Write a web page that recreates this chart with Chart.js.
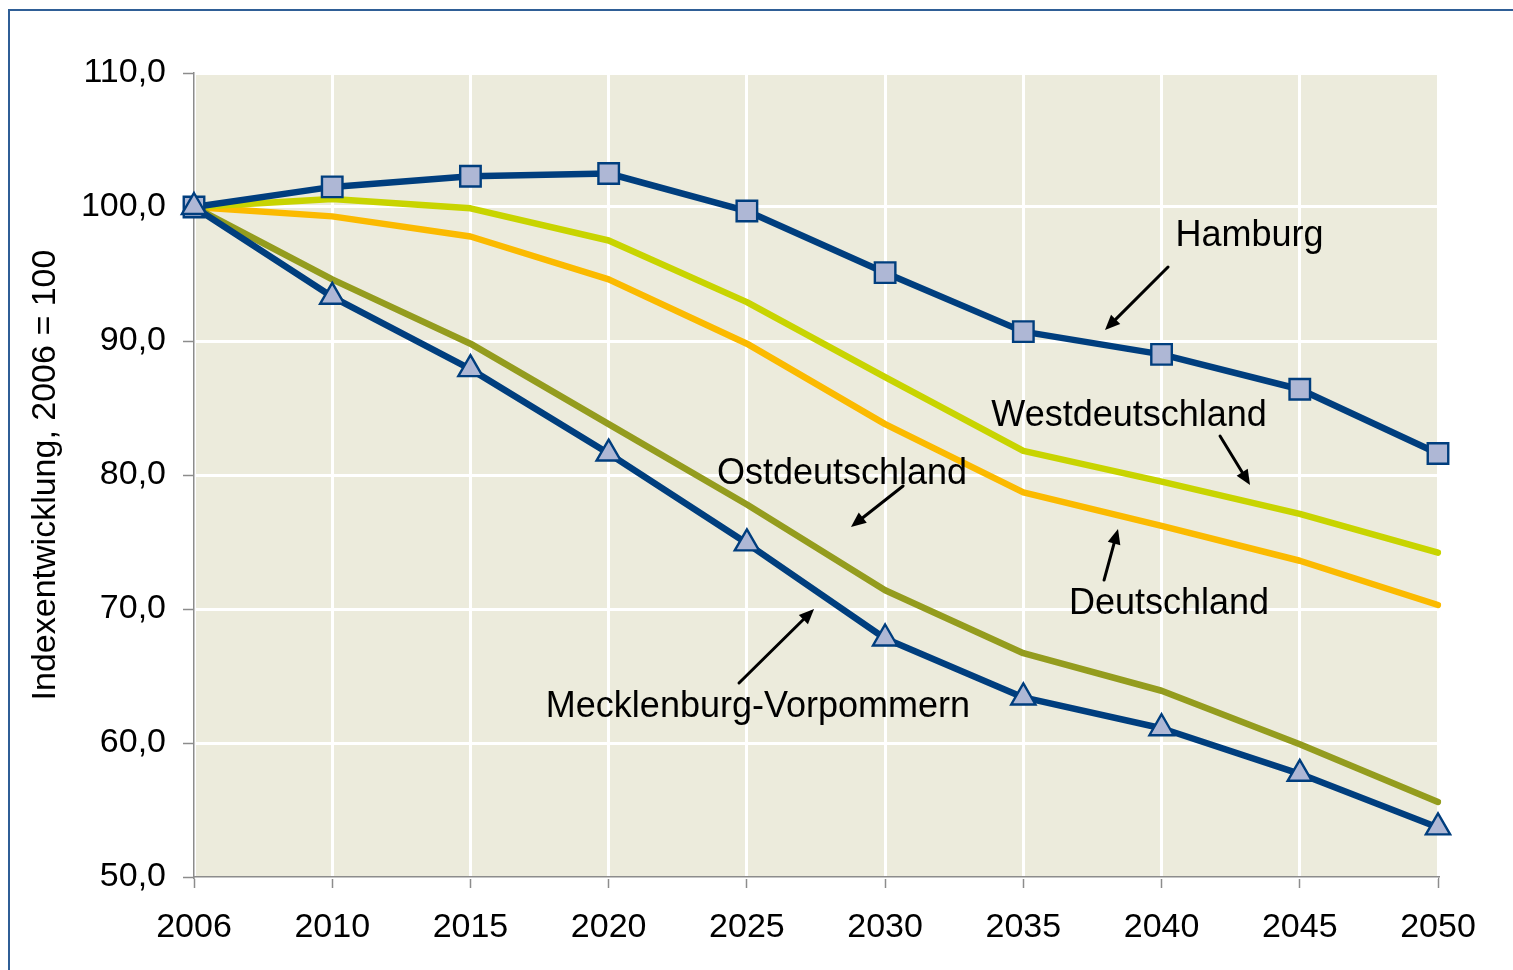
<!DOCTYPE html>
<html>
<head>
<meta charset="utf-8">
<script src="https://cdn.jsdelivr.net/npm/chart.js@4.4.1/dist/chart.umd.min.js"></script>
<style>
  html, body { margin: 0; padding: 0; background: #ffffff; overflow: hidden; }
  #frame { position: absolute; left: 8px; top: 9px; width: 1700px; height: 1200px;
           border-top: 2px solid #2F5E96; border-left: 2px solid #2F5E96; }
  #wrap { position: absolute; left: 0; top: 0; width: 1513px; height: 970px; }
</style>
</head>
<body>
<div id="frame"></div>
<div id="wrap"><canvas id="c" width="1513" height="970"></canvas></div>
<script>
// ---- data ----
const years = ["2006", "2010", "2015", "2020", "2025", "2030", "2035", "2040", "2045", "2050"];
const hamburg = [100.0, 101.5, 102.3, 102.5, 99.7, 95.1, 90.7, 89.0, 86.4, 81.6];
const westdeutschland = [100.0, 100.6, 99.9, 97.5, 92.9, 87.3, 81.8, 79.5, 77.1, 74.2];
const deutschland = [100.0, 99.3, 97.8, 94.6, 89.8, 83.8, 78.7, 76.2, 73.6, 70.3];
const ostdeutschland = [100.0, 94.6, 89.8, 83.8, 77.8, 71.4, 66.7, 63.9, 59.9, 55.6];
const mecklenburg = [100.0, 93.3, 87.9, 81.6, 74.9, 67.8, 63.4, 61.1, 57.7, 53.7];
const yTicks = [50, 60, 70, 80, 90, 100, 110];
const seriesNames = ["Mecklenburg-Vorpommern", "Hamburg", "Ostdeutschland", "Westdeutschland", "Deutschland"];

// annotation labels (in category-index / value coordinates)
const labelTexts = ["Hamburg", "Westdeutschland", "Ostdeutschland", "Deutschland", "Mecklenburg-Vorpommern"];
const labelPos = [[7.636, 97.84], [6.765, 84.40], [4.688, 80.07], [7.054, 70.37], [4.080, 62.69]];
const arrowFrom = [[7.047, 95.52], [7.423, 82.91], [5.130, 79.18], [6.584, 72.16], [3.943, 64.48]];
const arrowTo   = [[6.591, 90.82], [7.640, 79.25], [4.753, 76.12], [6.685, 75.97], [4.486, 70.00]];

const FONT = "'Liberation Sans', Arial, sans-serif";
const BLUE = "#003E7E";
const MARKER_FILL = "#AEB7D5";

const bgPlugin = {
  id: 'plotBg',
  beforeDraw(chart) {
    const {ctx, chartArea: a} = chart;
    ctx.save();
    ctx.fillStyle = '#ECEBDC';
    ctx.fillRect(a.left, a.top, a.right - a.left, a.bottom - a.top);
    ctx.restore();
  }
};

const annotPlugin = {
  id: 'annots',
  afterDatasetsDraw(chart) {
    const {ctx} = chart;
    const xs = chart.scales.x, ys = chart.scales.y;
    const px = v => xs.getPixelForValue(v);
    ctx.save();
    ctx.fillStyle = '#000';
    ctx.strokeStyle = '#000';
    ctx.font = "36px " + FONT;
    ctx.textAlign = 'center';
    ctx.textBaseline = 'middle';
    for (let i = 0; i < labelTexts.length; i++) {
      ctx.fillText(labelTexts[i], px(labelPos[i][0]), ys.getPixelForValue(labelPos[i][1]));
      const x1 = px(arrowFrom[i][0]), y1 = ys.getPixelForValue(arrowFrom[i][1]);
      const x2 = px(arrowTo[i][0]), y2 = ys.getPixelForValue(arrowTo[i][1]);
      const ang = Math.atan2(y2 - y1, x2 - x1);
      const hl = 15, hw = 6.5;
      const bx = x2 - hl * Math.cos(ang), by = y2 - hl * Math.sin(ang);
      ctx.lineWidth = 3;
      ctx.lineCap = 'round';
      ctx.beginPath();
      ctx.moveTo(x1, y1);
      ctx.lineTo(bx, by);
      ctx.stroke();
      ctx.beginPath();
      ctx.moveTo(x2, y2);
      ctx.lineTo(bx + hw * Math.sin(ang), by - hw * Math.cos(ang));
      ctx.lineTo(bx - hw * Math.sin(ang), by + hw * Math.cos(ang));
      ctx.closePath();
      ctx.fill();
    }
    ctx.restore();
  }
};

const lineBase = { borderWidth: 6.5, borderCapStyle: 'round', borderJoinStyle: 'round', tension: 0, fill: false };

new Chart(document.getElementById('c'), {
  type: 'line',
  data: {
    labels: years,
    datasets: [
      Object.assign({}, lineBase, { label: seriesNames[0], data: mecklenburg, borderColor: BLUE,
        pointStyle: 'triangle', pointRadius: 14, pointBorderWidth: 2.4, pointBackgroundColor: MARKER_FILL, pointBorderColor: BLUE }),
      Object.assign({}, lineBase, { label: seriesNames[1], data: hamburg, borderColor: BLUE,
        pointStyle: 'rect', pointRadius: 14.5, pointBorderWidth: 2.4, pointBackgroundColor: MARKER_FILL, pointBorderColor: BLUE }),
      Object.assign({}, lineBase, { label: seriesNames[2], data: ostdeutschland, borderColor: '#949C1E', pointRadius: 0 }),
      Object.assign({}, lineBase, { label: seriesNames[3], data: westdeutschland, borderColor: '#C8D400', pointRadius: 0 }),
      Object.assign({}, lineBase, { label: seriesNames[4], data: deutschland, borderColor: '#FBBA00', pointRadius: 0 })
    ]
  },
  options: {
    responsive: false,
    animation: false,
    devicePixelRatio: 1,
    layout: { padding: { top: 73, right: 75, left: 0, bottom: 0 } },
    plugins: { legend: { display: false }, tooltip: { enabled: false } },
    elements: { point: { hoverRadius: 14 } },
    scales: {
      x: {
        type: 'category',
        offset: false,
        grid: { color: '#ffffff', lineWidth: 3, tickColor: '#8C8C8C', tickLength: 11, tickWidth: 1.5 },
        border: { color: '#8C8C8C', width: 1.5 },
        ticks: { color: '#000', font: { family: FONT, size: 34 }, padding: 19, maxRotation: 0, autoSkip: false },
        afterFit(s) { s.height = 93; }
      },
      y: {
        min: 50, max: 110,
        afterBuildTicks(s) { s.ticks = yTicks.map(v => ({ value: v })); },
        grid: { color: '#ffffff', lineWidth: 3, tickColor: '#8C8C8C', tickLength: 11, tickWidth: 1.5 },
        border: { color: '#8C8C8C', width: 1.5 },
        ticks: { color: '#000', font: { family: FONT, size: 34 }, padding: 17,
          callback: v => Number(v).toFixed(1).replace('.', ',') },
        title: { display: true, text: 'Indexentwicklung, 2006 = 100', color: '#000',
          font: { family: FONT, size: 34 }, padding: { top: 25, bottom: 0 } },
        afterFit(s) { s.width = 194; }
      }
    }
  },
  plugins: [bgPlugin, annotPlugin]
});
</script>
</body>
</html>
